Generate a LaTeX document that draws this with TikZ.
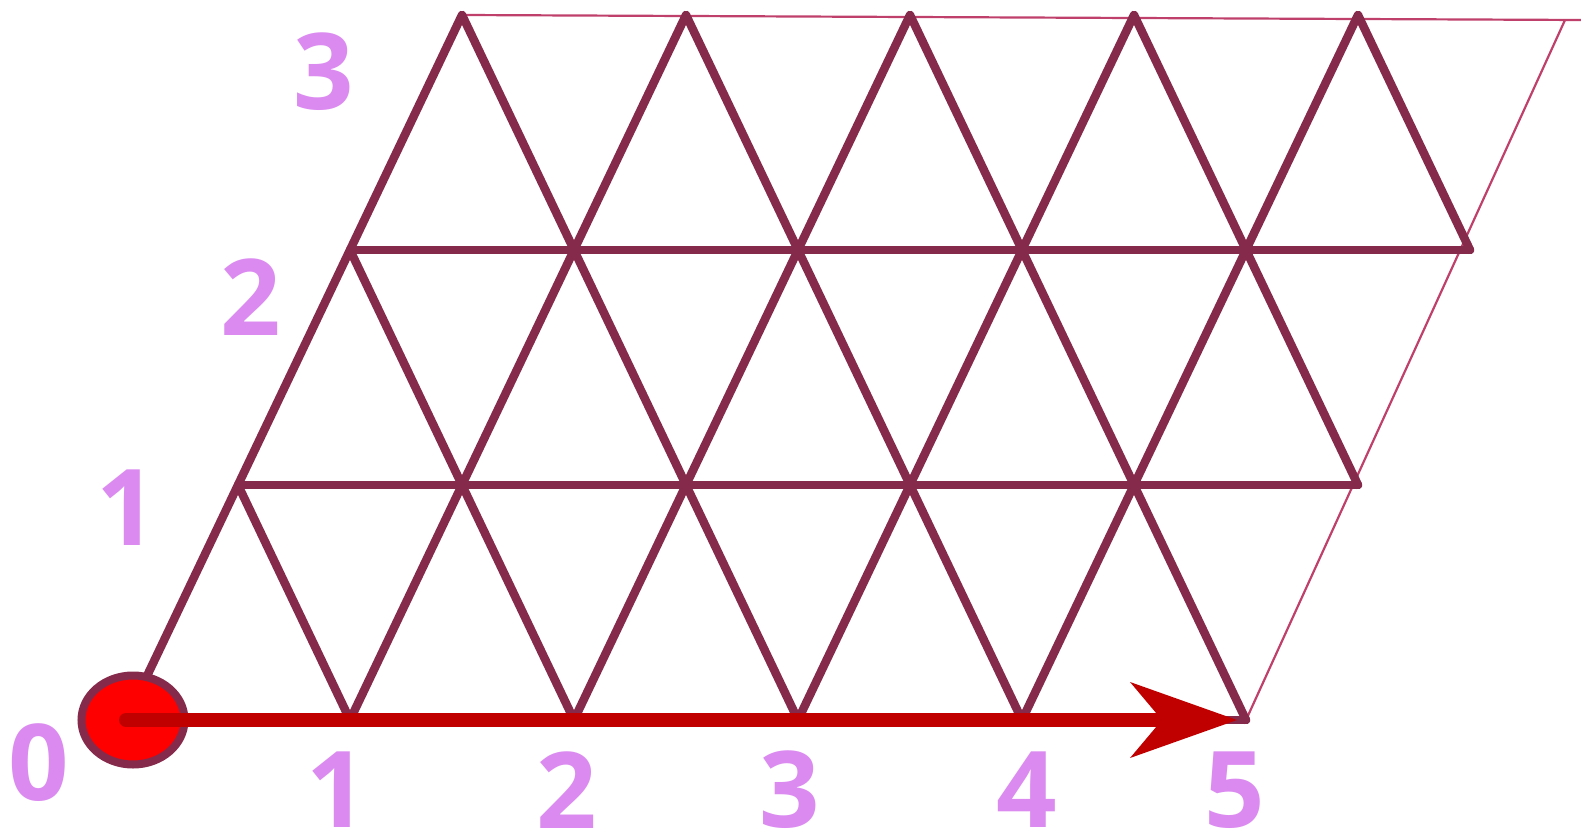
\documentclass[tikz,border=0pt]{standalone}
\usepackage{fontspec}
\newfontfamily\labfont{Open Sans}
\usetikzlibrary{arrows.meta,shapes.geometric}
\definecolor{maroon}{RGB}{133,42,75}
\definecolor{thinred}{RGB}{192,64,108}
\definecolor{arrred}{RGB}{192,0,0}
\definecolor{labcol}{RGB}{219,139,240}
\tikzset{
  grid/.style={draw=maroon, line width=8.5pt, line cap=round, line join=round},
  thinline/.style={draw=thinred, line width=2.2pt},
  arr/.style={draw=arrred, line width=14pt, line cap=round,
    -{Stealth[length=107pt,width=76pt,inset=32pt,line width=0pt]}},
  lab/.style={text=labcol, inner sep=0pt, font=\labfont\bfseries\fontsize{106}{106}\selectfont},
  dot/.style={ellipse, draw=maroon, line width=8pt, fill=red, minimum width=103pt, minimum height=89pt, inner sep=0pt}
}
\begin{document}
\begin{tikzpicture}[x=1pt,y=-1pt]
\useasboundingbox (0,0) rectangle (1581,834);
\foreach \i in {0,...,5}{
  \foreach \j in {0,...,3}{
    \coordinate (p-\i-\j) at ({126+224*\i+112*\j},{720-235*\j});
  }
}
\coordinate (tr) at (1581,20);
\coordinate (tr2) at (1565,20);
% thin lines
\draw[thinline] (p-0-3) -- (tr);
\draw[thinline] (tr2) -- (p-5-0);
% horizontals
\foreach \j in {0,1,2}{ \draw[grid] (p-0-\j) -- (p-5-\j); }
% up-right
\foreach \i in {0,...,4}{ \draw[grid] (p-\i-0) -- (p-\i-3); }
% down-right
\draw[grid] (p-0-1) -- (p-1-0);
\draw[grid] (p-0-2) -- (p-2-0);
\draw[grid] (p-0-3) -- (p-3-0);
\draw[grid] (p-1-3) -- (p-4-0);
\draw[grid] (p-3-3) -- (p-5-1);
\draw[grid] (p-4-3) -- (p-5-2);
% origin dot and arrow
\node[dot] (o) at ([xshift=7pt]p-0-0) {};
\draw[arr, shorten >=9pt] (p-0-0) -- (p-5-0);
\draw[grid] (p-2-3) -- (p-5-0);
% labels
\node[lab] (l0) at (39,763) {0};
\node[lab] (x1) at (337,790) {1};
\node[lab] (x2) at (567,790) {2};
\node[lab] (x3) at (790,790) {3};
\node[lab] (x4) at (1027,790) {4};
\node[lab] (x5) at (1235,790) {5};
\node[lab] (y1) at (127,508) {1};
\node[lab] (y2) at (251,297) {2};
\node[lab] (y3) at (324,72) {3};
\end{tikzpicture}
\end{document}
